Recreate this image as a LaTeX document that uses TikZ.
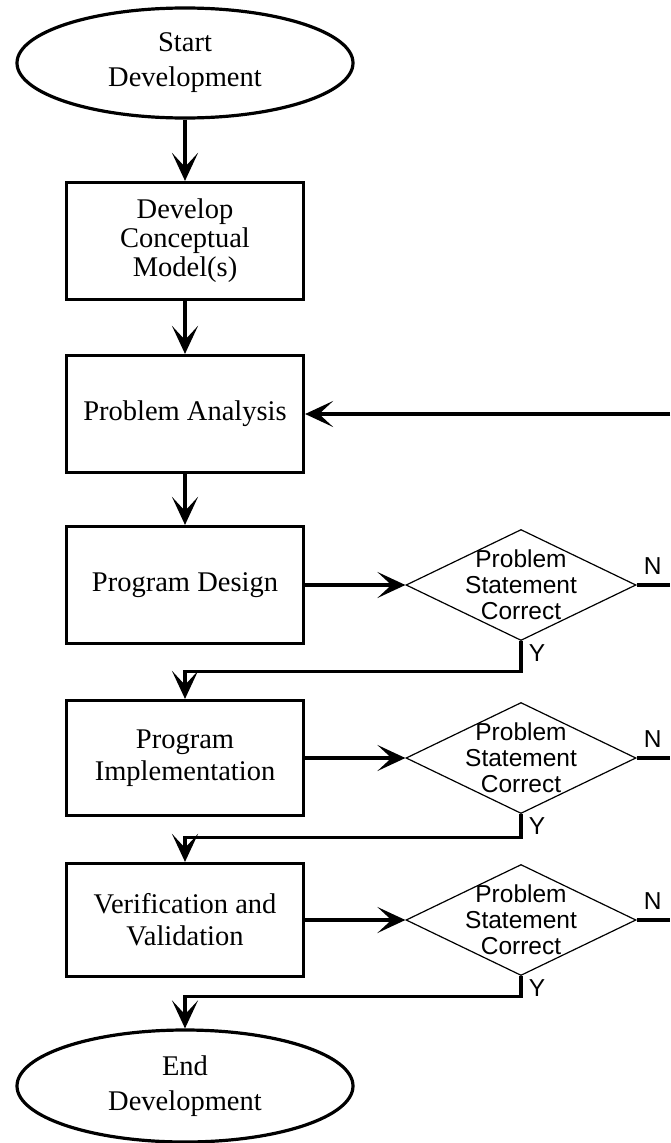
\documentclass[tikz,border=0pt]{standalone}
\usepackage{fontspec}
\setmainfont{Liberation Serif}
\newfontfamily\checkfont{Liberation Sans}
\usetikzlibrary{shapes.geometric, arrows.meta}
\tikzstyle{normalBox} = [shape=rectangle, draw=black, text=black, line width=3.2pt,
	align=center, fill=white, font=\fontsize{28.5}{32}\selectfont]
\tikzstyle{termBox} = [shape=ellipse, draw=black, text=black, line width=3.2pt,
	align=center, fill=white, font=\fontsize{28.5}{35}\selectfont]
\tikzstyle{NormalBox} = [normalBox, minimum width=237pt, minimum height=117pt]
\tikzstyle{TermBox} = [termBox, minimum width=336pt, minimum height=110pt]
\tikzstyle{CheckBox} = [shape=diamond, draw=black, line width=1.2pt, fill=white,
	minimum width=230pt, minimum height=111pt, inner sep=0pt]
\tikzstyle{checkText} = [align=center, text=black, font=\checkfont\fontsize{24.5}{26}\selectfont]
\tikzstyle{flow} = [line width=3.2pt, -{Stealth[length=28pt, width=26pt, inset=14pt]}]
\tikzstyle{plain} = [line width=3.2pt]

\begin{document}
\begin{tikzpicture}[x=1pt, y=-1pt, node distance=171pt]
  \useasboundingbox (0,0) rectangle (670,1143);
  \coordinate (EDGE) at (670,0);

  \node (STA) [TermBox] at (185,63) {Start\\Development};
  \node (DEV) [NormalBox, below of=STA, yshift=-7pt, font=\fontsize{28.5}{29}\selectfont] {Develop\\Conceptual\\Model(s)};
  \node (ANL) [NormalBox, below of=DEV, yshift=-2pt] {Problem Analysis};
  \node (DSG) [NormalBox, below of=ANL] {Program Design};
  \node (IMP) [NormalBox, below of=DSG, yshift=-2pt, minimum height=115pt] {Program\\Implementation};
  \node (VER) [NormalBox, below of=IMP, yshift=9pt, minimum height=113pt] {Verification and\\Validation};
  \node (END) [TermBox, below of=VER, yshift=5pt, minimum height=112pt] {End\\Development};

  \node (CK1) [CheckBox, right of=DSG, xshift=165pt] {};
  \node (CK2) [CheckBox, right of=IMP, xshift=165pt] {};
  \node (CK3) [CheckBox, right of=VER, xshift=165pt] {};
  \node (Ck1) [checkText] at (CK1) {Problem\\Statement\\Correct};
  \node (Ck2) [checkText] at (CK2) {Problem\\Statement\\Correct};
  \node (Ck3) [checkText] at (CK3) {Problem\\Statement\\Correct};

  \node (N1) [checkText] at ([shift={(16,-19)}]CK1.east) {N};
  \node (N2) [checkText] at ([shift={(16,-19)}]CK2.east) {N};
  \node (N3) [checkText] at ([shift={(16,-19)}]CK3.east) {N};
  \node (Y1) [checkText] at ([shift={(16,12)}]CK1.south) {Y};
  \node (Y2) [checkText] at ([shift={(16,12)}]CK2.south) {Y};
  \node (Y3) [checkText] at ([shift={(16,12)}]CK3.south) {Y};

  \draw [flow] (STA) -- (DEV);
  \draw [flow] (DEV) -- (ANL);
  \draw [flow] (ANL) -- (DSG);
  \draw [flow] (ANL.east -| EDGE) -- (ANL.east);

  \draw [flow] (DSG) -- (CK1);
  \draw [flow] (IMP) -- (CK2);
  \draw [flow] (VER) -- (CK3);
  \draw [plain] (CK1.east) -- (CK1.east -| EDGE);
  \draw [plain] (CK2.east) -- (CK2.east -| EDGE);
  \draw [plain] (CK3.east) -- (CK3.east -| EDGE);

  \draw [flow] (CK1.south) -- ++(0,30) -| (IMP.north);
  \draw [flow] (CK2.south) -- ++(0,23) -| (VER.north);
  \draw [flow] (CK3.south) -- ++(0,20) -| (END.north);
\end{tikzpicture}
\end{document}
